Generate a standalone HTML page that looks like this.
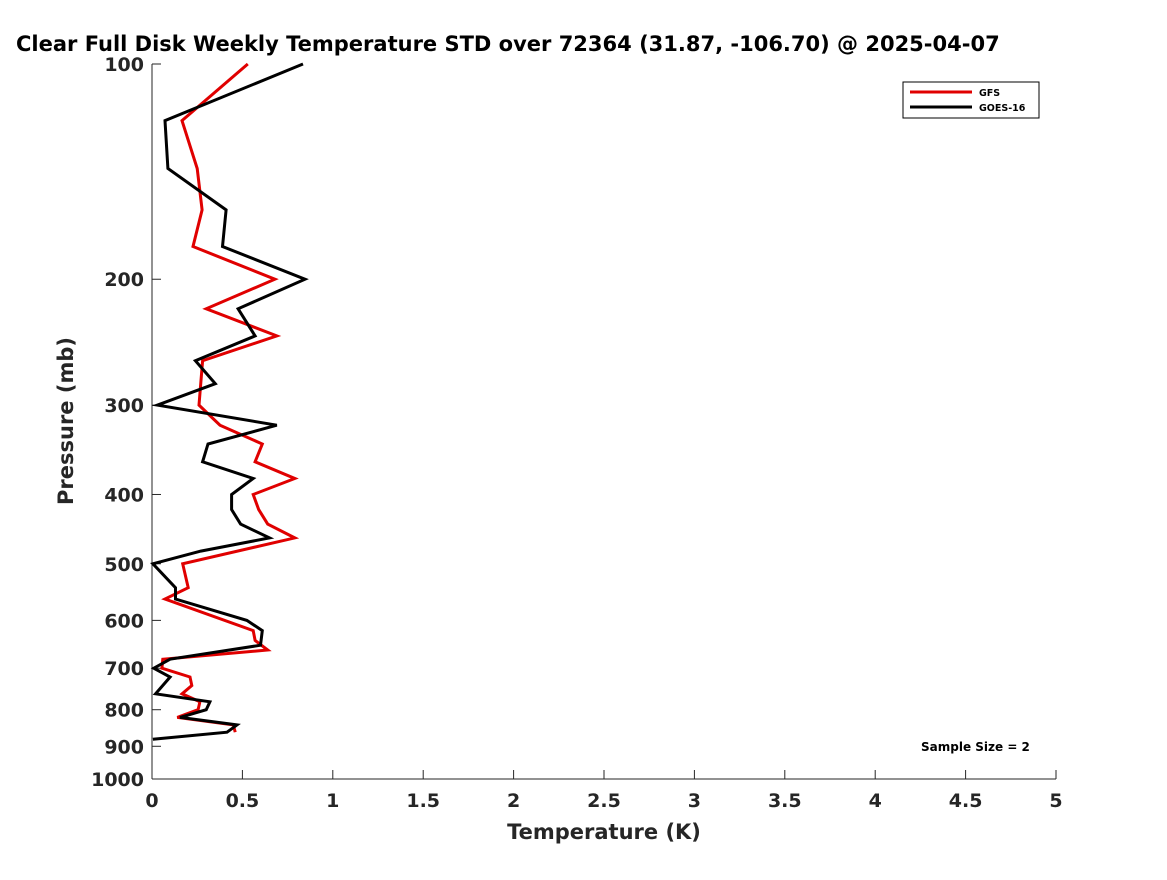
<!DOCTYPE html>
<html><head><meta charset="utf-8"><style>
body{margin:0;background:#fff;overflow:hidden}
svg{font-family:"DejaVu Sans","Liberation Sans",sans-serif}
</style></head><body>
<svg id="chart" width="1167" height="875" viewBox="0 0 1167 875">
<text x="16" y="51" font-size="21" font-weight="bold" fill="#000">Clear Full Disk Weekly Temperature STD over 72364 (31.87, -106.70) @ 2025-04-07</text>
<g id="axes"></g>
<g id="series"></g>
<g>
<rect x="903" y="82" width="136" height="36" fill="#fff" stroke="#000" stroke-width="1"/>
<line x1="910" y1="92" x2="972" y2="92" stroke="#e00000" stroke-width="3"/>
<text x="979" y="96" font-size="9.5" font-weight="bold">GFS</text>
<line x1="910" y1="107" x2="972" y2="107" stroke="#000" stroke-width="3"/>
<text x="979" y="111" font-size="9.5" font-weight="bold">GOES-16</text>
</g>
<text x="921" y="751" font-size="12" font-weight="bold">Sample Size = 2</text>
<text x="604" y="839" font-size="21" font-weight="bold" fill="#262626" text-anchor="middle">Temperature (K)</text>
<text transform="translate(73,421) rotate(-90)" font-size="21" font-weight="bold" fill="#262626" text-anchor="middle">Pressure (mb)</text>
</svg>
<script>
const xTicks=[0,0.5,1,1.5,2,2.5,3,3.5,4,4.5,5];
const xTickLabels=["0","0.5","1","1.5","2","2.5","3","3.5","4","4.5","5"];
const yTicks=[100,200,300,400,500,600,700,800,900,1000];
const yTickLabels=["100","200","300","400","500","600","700","800","900","1000"];
const goesP=[100,120,140,160,180,200,220,240,260,280,300,320,340,360,380,400,420,440,460,480,500,540,560,600,620,650,680,700,720,760,780,800,820,840,860,880];
const goesT=[0.835,0.072,0.088,0.41,0.39,0.846,0.476,0.57,0.24,0.35,0.03,0.69,0.31,0.28,0.56,0.44,0.44,0.49,0.65,0.27,0.005,0.13,0.13,0.525,0.61,0.6,0.10,0.01,0.10,0.02,0.32,0.30,0.155,0.47,0.415,0.005];
const gfsP=[100,120,140,160,180,200,220,240,260,300,320,340,360,380,400,420,440,460,500,540,560,620,640,660,680,700,720,740,760,780,800,820,840,860];
const gfsT=[0.53,0.166,0.25,0.277,0.227,0.68,0.30,0.69,0.28,0.26,0.376,0.61,0.57,0.79,0.56,0.59,0.64,0.79,0.17,0.2,0.072,0.56,0.57,0.64,0.06,0.055,0.21,0.22,0.166,0.265,0.255,0.14,0.45,0.46];
const X0=152,X1=1056,Y0=64,Y1=779;
const xs=v=>X0+(v-0)/(5-0)*(X1-X0);
const ys=p=>Y0+Math.log10(p/100)*(Y1-Y0);
const NS="http://www.w3.org/2000/svg";
function mk(t,a,parent){const e=document.createElementNS(NS,t);for(const k in a)e.setAttribute(k,a[k]);parent.appendChild(e);return e;}
const axes=document.getElementById('axes');
let e=mk('line',{x1:X0,y1:Y1,x2:X1,y2:Y1,stroke:'#262626','stroke-width':1},axes);


e=mk('line',{x1:X0,y1:Y0,x2:X0,y2:Y1,stroke:'#262626','stroke-width':1},axes);


xTicks.forEach((v,i)=>{
 const x=xs(v);
 const t=mk('line',{x1:x,y1:Y1,x2:x,y2:Y1-9,stroke:'#262626'},axes);
 
 
 const l=mk('text',{x:x,y:Y1+28,'font-size':19,'font-weight':'bold',fill:'#262626','text-anchor':'middle'},axes);
 l.textContent=xTickLabels[i];
 
 
});
yTicks.forEach((p,i)=>{
 const y=ys(p);
 const t=mk('line',{x1:X0,y1:y,x2:X0+9,y2:y,stroke:'#262626'},axes);
 
 
 const l=mk('text',{x:X0-8,y:y+7,'font-size':19,'font-weight':'bold',fill:'#262626','text-anchor':'end'},axes);
 l.textContent=yTickLabels[i];
 
 
});
const ser=document.getElementById('series');
function line(P,T,color,name){
 const pts=P.map((p,i)=>xs(T[i]).toFixed(1)+','+ys(p).toFixed(1)).join(' ');
 const pl=mk('polyline',{points:pts,fill:'none',stroke:color,'stroke-width':3,'stroke-linejoin':'miter'},ser);
 
 
}
line(gfsP,gfsT,'#e00000','gfs-line');
line(goesP,goesT,'#000000','goes16-line');
</script>
</body></html>
